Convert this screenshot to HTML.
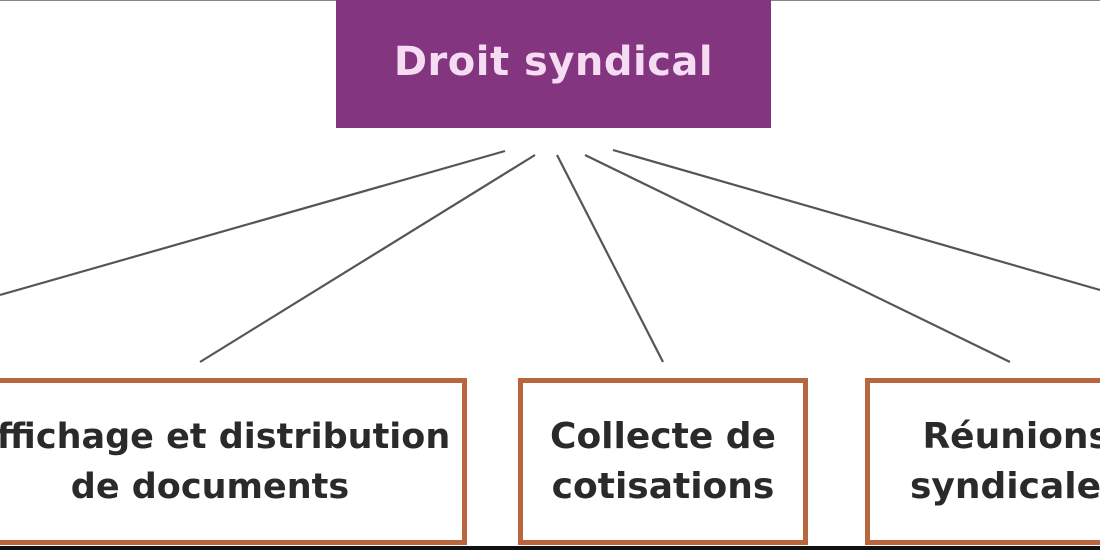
<!DOCTYPE html>
<html><head><meta charset="utf-8"><style>
html,body{margin:0;padding:0;background:#fff;}
#c{position:relative;width:1100px;height:550px;overflow:hidden;background:#fff;font-family:"DejaVu Sans","Liberation Sans",sans-serif;}
.top{position:absolute;left:0;top:0;width:1100px;height:1px;background:#888;}
.p{position:absolute;left:336px;top:0;width:435px;height:128px;background:#84357f;color:#f6dcf2;font-size:40px;font-weight:bold;text-align:center;line-height:124px;letter-spacing:0.5px;}
.b{position:absolute;top:378px;height:157px;border:5px solid #b9653e;background:#fff;color:#2a2a2a;font-size:36px;font-weight:bold;text-align:center;display:flex;align-items:center;justify-content:center;line-height:50px;white-space:nowrap;}
.bot{position:absolute;left:0;top:546px;width:1100px;height:4px;background:#111;}
</style></head><body><div id="c">
<div class="top"></div>
<svg width="1100" height="550" style="position:absolute;left:0;top:0">
<g stroke="#555" stroke-width="2.2" fill="none">
<line x1="505" y1="151" x2="0" y2="295"/>
<line x1="535" y1="155" x2="200" y2="362"/>
<line x1="557" y1="155" x2="663" y2="362"/>
<line x1="585" y1="155" x2="1010" y2="362"/>
<line x1="613" y1="150" x2="1100" y2="290"/>
</g></svg>
<div class="p">Droit syndical</div>
<div class="b" style="left:-47px;width:504px;font-size:35px;"><div>Affichage et distribution<br>de documents</div></div>
<div class="b" style="left:518px;width:280px;"><div>Collecte de<br>cotisations</div></div>
<div class="b" style="left:865px;width:300px;justify-content:flex-start;"><div style="margin-left:40px">Réunions<br>syndicales</div></div>
<div class="bot"></div>
</div></body></html>
